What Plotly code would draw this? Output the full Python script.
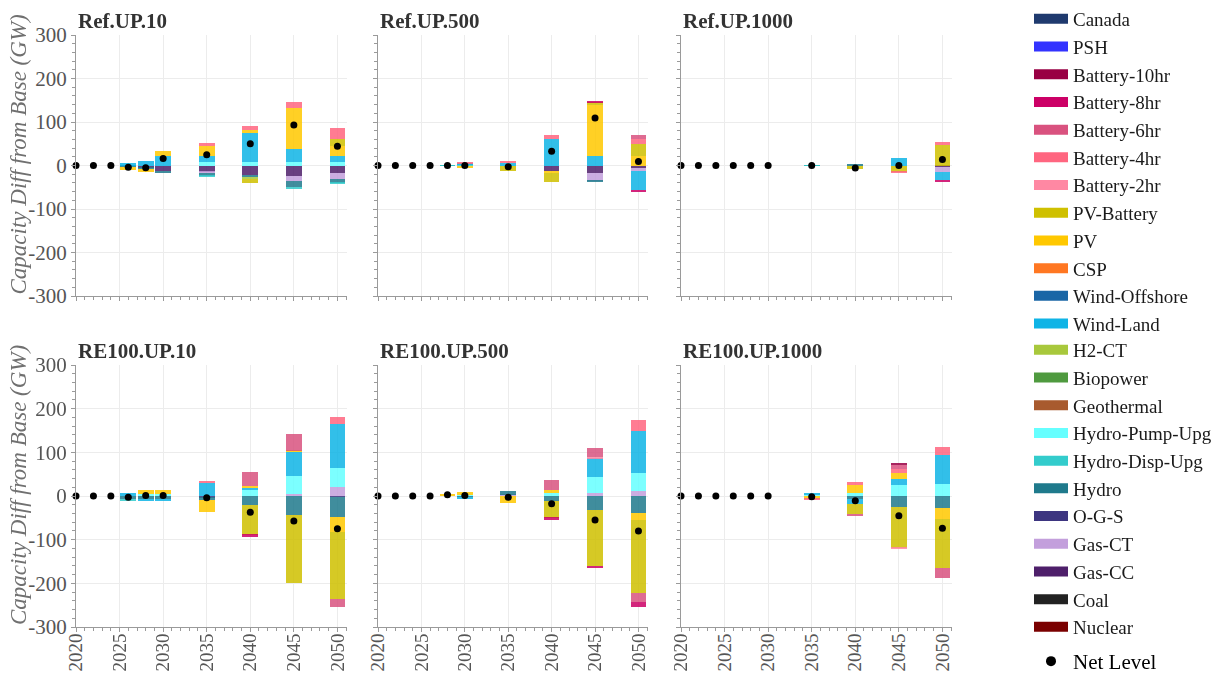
import plotly.graph_objects as go

# ---------------- data ----------------
years = [2020, 2022, 2024, 2026, 2028, 2030, 2035, 2040, 2045, 2050]

panel_titles = ["Ref.UP.10", "Ref.UP.500", "Ref.UP.1000",
                "RE100.UP.10", "RE100.UP.500", "RE100.UP.1000"]

techs = ["Canada", "PSH", "Battery-10hr", "Battery-8hr", "Battery-6hr", "Battery-4hr",
         "Battery-2hr", "PV-Battery", "PV", "CSP", "Wind-Offshore", "Wind-Land", "H2-CT",
         "Biopower", "Geothermal", "Hydro-Pump-Upg", "Hydro-Disp-Upg", "Hydro", "O-G-S",
         "Gas-CT", "Gas-CC", "Coal", "Nuclear"]

tech_colors = ["#1f3a6e", "#3333ff", "#990044", "#cc0066", "#d9527f", "#ff6680",
               "#ff88a3", "#cfc000", "#ffc800", "#ff7722", "#1a66a6", "#0fb4e6", "#a8c83c",
               "#4f9a3f", "#a85a2e", "#66ffff", "#33cccc", "#1f7a8c", "#3d3580",
               "#c39fdc", "#4e1f6a", "#222222", "#7a0000"]

ref_up_10 = {
    "Battery-4hr":    [0, 0, 0, 0, 0, 0, 7, 8, 13, 27],
    "PV-Battery":     [0, 0, 0, 0, 0, 0, 0, -9, 0, 15],
    "PV":             [0, 0, 0, -6, -6, 11, 23, 8, 95, 23],
    "Wind-Land":      [0, 0, 0, 6, 10, 22, 14, 66, 30, 14],
    "H2-CT":          [0, 0, 0, 0, 0, 0, 0, -4, 0, 0],
    "Hydro-Pump-Upg": [0, 0, 0, 0, 0, 0, 8, 8, 8, 8],
    "Hydro-Disp-Upg": [0, 0, 0, 0, 0, 0, -3, 0, -3, -3],
    "Hydro":          [0, 0, 0, -4, -4, -4, -7, -5, -14, -10],
    "Gas-CT":         [0, 0, 0, 0, 0, 0, -3, 0, -13, -13],
    "Gas-CC":         [0, 0, 0, 0, -5, -13, -14, -22, -23, -17],
}

ref_up_500 = {
    "Battery-8hr":    [0, 0, 0, 0, 0, 0, 0, 0, 2, -4],
    "Battery-6hr":    [0, 0, 0, 0, 0, 0, 0, 0, 0, 8],
    "Battery-4hr":    [0, 0, 0, 0, 0, 1, 3, 8, 0, 12],
    "PV-Battery":     [0, 0, 0, 0, 0, 0, -12, -19, 7, 27],
    "PV":             [0, 0, 0, 0, 0, -6, 0, -6, 117, 23],
    "Wind-Land":      [0, 0, 0, 0, 0, 3, 6, 62, 21, -45],
    "Hydro-Disp-Upg": [0, 0, 0, 0, 1, 2, 0, 0, 0, 0],
    "Hydro":          [0, 0, 0, 0, -1, 0, 0, 0, -3, 0],
    "Gas-CT":         [0, 0, 0, 0, 0, 0, 0, 0, -17, -7],
    "Gas-CC":         [0, 0, 0, 0, 0, 0, 0, -12, -18, -5],
}

ref_up_1000 = {
    "Battery-8hr":    [0, 0, 0, 0, 0, 0, 0, 0, 0, -6],
    "Battery-4hr":    [0, 0, 0, 0, 0, 0, 0, 0, -4, 5],
    "PV-Battery":     [0, 0, 0, 0, 0, 0, 0, -8, -14, 48],
    "Wind-Land":      [0, 0, 0, 0, 0, 0, 0, 0, 18, -17],
    "Hydro-Disp-Upg": [0, 0, 0, 0, 0, 0, 1, 0, 0, 0],
    "Hydro":          [0, 0, 0, 0, 0, 0, -1, 2, 0, 0],
    "Gas-CT":         [0, 0, 0, 0, 0, 0, 0, 0, 0, -13],
    "Gas-CC":         [0, 0, 0, 0, 0, 0, 0, 0, 0, -3],
}

re100_up_10 = {
    "Battery-8hr":    [0, 0, 0, 0, 0, 0, 0, -4, 0, 0],
    "Battery-6hr":    [0, 0, 0, 0, 0, 0, 0, 32, 39, -19],
    "Battery-4hr":    [0, 0, 0, 0, 0, 0, 3, 0, 0, 15],
    "PV-Battery":     [0, 0, 0, 0, 0, 0, 0, -69, -157, -154],
    "PV":             [0, 0, 0, 0, 9, 9, -28, 6, 3, -35],
    "Wind-Land":      [0, 0, 0, 8, -6, -6, 30, 4, 56, 100],
    "Hydro-Pump-Upg": [0, 0, 0, 0, 4, 4, 0, 14, 41, 44],
    "Hydro-Disp-Upg": [0, 0, 0, -5, 0, 0, 0, 0, 0, 0],
    "Hydro":          [0, 0, 0, -6, -6, -6, -6, -20, -43, -45],
    "O-G-S":          [0, 0, 0, 0, 0, 0, -3, 0, 0, -2],
    "Gas-CT":         [0, 0, 0, 0, 0, 0, 0, 0, 4, 21],
}

re100_up_500 = {
    "Battery-8hr":    [0, 0, 0, 0, 0, 0, 0, -4, -5, -13],
    "Battery-6hr":    [0, 0, 0, 0, 0, 0, 0, 22, 21, -19],
    "Battery-4hr":    [0, 0, 0, 0, 0, 0, 0, 0, 0, 27],
    "Battery-2hr":    [0, 0, 0, 0, 0, 0, 0, 0, 3, 0],
    "PV-Battery":     [0, 0, 0, 0, 0, 0, 0, -38, -128, -169],
    "PV":             [0, 0, 0, 0, 3, 7, -15, 6, 0, -14],
    "Wind-Land":      [0, 0, 0, 0, 0, -6, 0, 0, 44, 96],
    "Hydro-Pump-Upg": [0, 0, 0, 0, 0, 2, 0, 8, 35, 40],
    "Hydro":          [0, 0, 0, 0, 0, -2, 9, -12, -33, -40],
    "Gas-CT":         [0, 0, 0, 0, 0, 0, 3, 0, 8, 12],
}

re100_up_1000 = {
    "Battery-10hr":   [0, 0, 0, 0, 0, 0, 0, 0, 3, 0],
    "Battery-6hr":    [0, 0, 0, 0, 0, 0, 0, -2, 10, -21],
    "Battery-4hr":    [0, 0, 0, 0, 0, 0, -3, 8, 10, 18],
    "Battery-2hr":    [0, 0, 0, 0, 0, 0, 0, 0, -2, 0],
    "PV-Battery":     [0, 0, 0, 0, 0, 0, 0, -24, -93, -113],
    "PV":             [0, 0, 0, 0, 0, 0, -6, 17, 14, -25],
    "Wind-Land":      [0, 0, 0, 0, 0, 0, 5, -10, 13, 67],
    "Hydro-Pump-Upg": [0, 0, 0, 0, 0, 0, 2, 8, 25, 28],
    "Hydro":          [0, 0, 0, 0, 0, 0, 0, -8, -25, -28],
}

panels = [ref_up_10, ref_up_500, ref_up_1000, re100_up_10, re100_up_500, re100_up_1000]

y_ticks = [-300, -200, -100, 0, 100, 200, 300]
x_ticks = [2020, 2025, 2030, 2035, 2040, 2045, 2050]

# ---------------- layout geometry ----------------
W, H = 1231, 677
col_px = [(76, 347), (378, 648), (681, 952)]
row_px = [(35, 296), (365, 627)]
SERIF = "Liberation Serif, Times New Roman, serif"

fig = go.Figure()

color_of = dict(zip(techs, tech_colors))
stack_order = list(reversed(techs))  # nearest-to-zero first

for i, panel in enumerate(panels):
    k = i + 1
    xa = "x" if k == 1 else f"x{k}"
    ya = "y" if k == 1 else f"y{k}"
    for tech in stack_order:
        if tech not in panel:
            continue
        vals = [v if v != 0 else None for v in panel[tech]]
        fig.add_trace(go.Bar(
            x=years, y=vals, width=1.8, name=tech,
            marker=dict(color=color_of[tech], line=dict(width=0)),
            opacity=0.85, showlegend=False, xaxis=xa, yaxis=ya,
            hovertemplate=tech + ": %{y}<extra></extra>"))
    net = [sum(panel[t][j] for t in panel) for j in range(len(years))]
    fig.add_trace(go.Scatter(
        x=years, y=net, mode="markers", name="Net Level",
        marker=dict(color="black", size=7), showlegend=False,
        xaxis=xa, yaxis=ya, cliponaxis=False))

# legend entries (split over two stacked legends + one for Net Level)
for idx, (tech, col) in enumerate(zip(techs, tech_colors)):
    fig.add_trace(go.Scatter(
        x=[None], y=[None], mode="lines", name=tech, legendgroup=tech,
        legend="legend" if idx < 12 else "legend2",
        line=dict(color=col, width=14), showlegend=True))
fig.add_trace(go.Scatter(
    x=[None], y=[None], mode="markers", name="Net Level", legendgroup="net",
    legend="legend3", marker=dict(color="black", size=10), showlegend=True))

axis_common = dict(
    showgrid=True, gridcolor="#ececec", gridwidth=1,
    showline=True, linecolor="#9a9a9a", linewidth=1,
    ticks="outside", ticklen=4, tickcolor="#9a9a9a",
    zeroline=False, automargin=False,
)

layout_axes = {}
annotations = []
for i in range(6):
    k = i + 1
    r, c = divmod(i, 3)
    x0, x1 = col_px[c]
    y0, y1 = row_px[r]
    xname = "xaxis" if k == 1 else f"xaxis{k}"
    yname = "yaxis" if k == 1 else f"yaxis{k}"
    layout_axes[xname] = dict(
        axis_common, domain=[x0 / W, x1 / W], range=[2020, 2051.1],
        tickmode="array", tickvals=x_ticks, ticktext=[str(t) for t in x_ticks],
        tickangle=-90, showticklabels=(r == 1), ticklabelstandoff=-6,
        tickfont=dict(family=SERIF, size=19, color="#555555"),
        minor=dict(dtick=1, tick0=2020, ticks="outside", ticklen=3,
                   tickcolor="#9a9a9a", showgrid=False),
        anchor="y" if k == 1 else f"y{k}")
    layout_axes[yname] = dict(
        axis_common, domain=[1 - y1 / H, 1 - y0 / H], range=[-300, 300],
        tickmode="array", tickvals=y_ticks, ticktext=[str(t) for t in y_ticks],
        showticklabels=(c == 0),
        tickfont=dict(family=SERIF, size=21, color="#555555"),
        minor=dict(dtick=20, tick0=0, ticks="outside", ticklen=3,
                   tickcolor="#9a9a9a", showgrid=False),
        anchor="x" if k == 1 else f"x{k}")
    annotations.append(dict(
        text=f"<b>{panel_titles[i]}</b>", xref="paper", yref="paper",
        x=x0 / W, y=1 - (y0 - 14) / H, xanchor="left", yanchor="middle",
        showarrow=False, font=dict(family=SERIF, size=21, color="#333333")))
    if c == 0:
        annotations.append(dict(
            text="<i>Capacity Diff from Base (GW)</i>", xref="paper", yref="paper",
            x=18 / W, y=1 - ((y0 + y1) / 2 - 11) / H, xanchor="center", yanchor="middle",
            textangle=-90, showarrow=False,
            font=dict(family=SERIF, size=23, color="#707070")))

legend_common = dict(xanchor="left", traceorder="grouped", tracegroupgap=0,
                     itemwidth=34, bgcolor="rgba(0,0,0,0)", borderwidth=0,
                     font=dict(family=SERIF, size=19, color="#1a1a1a"))

fig.update_layout(
    template="none",
    width=W, height=H,
    margin=dict(l=0, r=0, t=0, b=0, autoexpand=False),
    paper_bgcolor="white", plot_bgcolor="white",
    barmode="relative", bargap=0,
    font=dict(family=SERIF),
    showlegend=True,
    legend=dict(legend_common, x=1029 / W, y=1.0, yanchor="top"),
    legend2=dict(legend_common, x=1029 / W, y=1 - 331 / H, yanchor="top"),
    legend3=dict(legend_common, x=1029 / W, y=1 - 641 / H, yanchor="top",
                 font=dict(family=SERIF, size=21, color="#000000")),
    annotations=annotations,
    **layout_axes,
)

fig.write_html("out.html",
               config={"displayModeBar": False},
               post_script="document.body.style.margin='0';"
                           "document.body.style.overflow='hidden';")
